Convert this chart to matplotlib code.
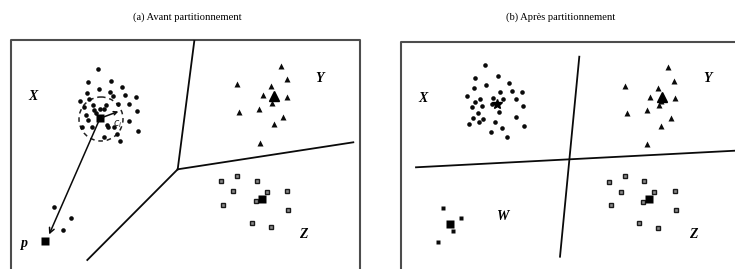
import matplotlib
matplotlib.use("Agg")
import matplotlib.pyplot as plt
from matplotlib.patches import Circle

# ---------------- data (pixel coordinates of the diagram) ----------------
titles = ["(a) Avant partitionnement", "(b) Après partitionnement"]
title_x = [187, 561]

# Panel (a)
a_X_x = [97.7, 88, 111, 122, 86.7, 98.7, 110, 125, 135.7, 80, 88.7, 129.3, 136.7, 129.3,
         137.7, 84.3, 92.7, 100, 106, 113.3, 94.3, 104.3, 86, 92, 108.3, 116.7, 104, 120,
         106.7, 114.3, 88, 96, 82, 118.3]
a_X_y = [69.3, 82.3, 80.7, 87.3, 92.7, 89.3, 92, 95, 96.7, 100.7, 99, 104, 110.7, 121.3,
         130.7, 106.7, 105, 108.7, 105.3, 96, 110, 109.3, 115, 126.7, 126.7, 134, 136.7, 141,
         125, 126.7, 120, 113, 127, 104]
a_near_p_x = [54, 71, 63.3]
a_near_p_y = [206.7, 217.7, 230]
a_Y_x = [280.7, 287.3, 237.3, 270.7, 262.7, 273.7, 275.3, 287.3, 271.7, 239.3, 259, 283.3, 273.7, 260]
a_Y_y = [65.7, 79, 84.3, 85.7, 95, 95, 98.3, 96.7, 103.3, 112.3, 109, 116.7, 124.3, 143.3]
a_Z_x = [221, 237.3, 257.3, 233.3, 266.7, 287.3, 223.3, 256, 288.3, 251.7, 271]
a_Z_y = [181, 175.7, 180.7, 191, 191.7, 190.7, 205, 201.3, 210, 223.3, 227.3]
a_centers_x = [100, 274, 261.7]
a_centers_y = [118.3, 96, 199]
a_p = (45, 241)
a_lines = [[(194.3, 41), (177.7, 169.3)],
           [(177.7, 169.3), (353.3, 142.3)],
           [(177.7, 169.3), (87.3, 260)]]
a_labels = [("X", 33, 97), ("Y", 320, 78), ("Z", 303, 234)]

# Panel (b)
b_X_x = [485, 475.3, 498.3, 509, 474, 485.7, 512, 522.3, 467.3, 500, 492.7, 475, 480.3, 502.7,
         516, 472.3, 481.7, 491.7, 522.7, 477.7, 499.3, 473.3, 483.3, 515.7, 469, 478.7, 495,
         524.3, 491, 501.7, 507]
b_X_y = [65, 77.7, 76, 83.3, 88.3, 85, 90.7, 92.3, 96, 92.3, 98.3, 101.7, 99.3, 99.3,
         99.3, 106.7, 105.7, 104.3, 106, 112.7, 112.3, 117.7, 119.3, 116.7, 124, 122.3, 121.7,
         125.7, 131.7, 128.3, 137]
b_Y_x = [668, 674.3, 625.3, 658.3, 650.3, 661, 675, 659.3, 627, 646.7, 670.7, 661, 647.3]
b_Y_y = [67.3, 81, 85.7, 87.7, 97.3, 100.7, 98.3, 105, 113.3, 110, 117.7, 125.7, 144.3]
b_Z_x = [609.3, 625, 644.3, 621, 654, 675, 611, 643.3, 675.7, 639.3, 658.3]
b_Z_y = [182.3, 176, 181, 191.7, 192.3, 191, 205, 202.3, 210, 222.7, 227.7]
b_W_x = [443.3, 460.7, 452.7, 437.7]
b_W_y = [207.7, 218, 230.7, 241.7]
b_centers_x = [496.7, 661.7, 649.3, 450]
b_centers_y = [104.3, 97.3, 199.3, 224.3]
b_lines = [[(579.3, 56.7), (560, 256.7)],
           [(416, 167.3), (735, 150.7)]]
b_labels = [("X", 423, 98), ("Y", 708, 78), ("W", 502, 217), ("Z", 693, 235)]

# ---------------- drawing ----------------
fig = plt.figure(figsize=(7.35, 2.69), dpi=100)
ax = fig.add_axes([0, 0, 1, 1])
ax.set_xlim(0, 735)
ax.set_ylim(269, 0)
ax.axis("off")

serif = ["Liberation Serif", "DejaVu Serif"]
frame_c = "#4d4d4d"

for t, x in zip(titles, title_x):
    ax.text(x, 17, t, ha="center", va="center", fontsize=7.6, family=serif, color="#000000")

# frames
ax.plot([11, 11, 360, 360], [269, 40, 40, 269], color=frame_c, lw=1.5, solid_capstyle="butt")
ax.plot([401, 401, 735], [269, 42, 42], color=frame_c, lw=1.5, solid_capstyle="butt")

dot_kw = dict(ls="none", marker="o", ms=3.3, color="#0a0a0a", mec="none")
tri_kw = dict(ls="none", marker="^", ms=4.0, color="#0a0a0a", mec="none")
sq_kw = dict(ls="none", marker="s", ms=3.2, mfc="#8a8a8a", mec="#1a1a1a", mew=1.0)
big_kw = dict(ls="none", marker="s", ms=5.5, color="#000000", mec="none")

# panel (a)
ax.plot(a_X_x, a_X_y, **dot_kw)
ax.plot(a_near_p_x, a_near_p_y, **dot_kw)
ax.plot(a_Y_x, a_Y_y, **tri_kw)
ax.plot(a_Z_x, a_Z_y, **sq_kw)
ax.plot(a_centers_x[:1], a_centers_y[:1], **big_kw)
ax.plot(a_centers_x[1:2], a_centers_y[1:2], ls="none", marker="^", ms=6.5, color="#000")
ax.plot(a_centers_x[2:], a_centers_y[2:], **big_kw)
ax.plot([a_p[0]], [a_p[1]], **big_kw)
for seg in a_lines:
    ax.plot([seg[0][0], seg[1][0]], [seg[0][1], seg[1][1]], color="#0a0a0a", lw=1.3)
ax.add_patch(Circle((101, 119), 22, fill=False, ls=(0, (3, 2.5)), lw=1.1, color="#222222"))
ax.annotate("", xy=(48, 237), xytext=(a_centers_x[0], a_centers_y[0]),
            arrowprops=dict(arrowstyle="->", lw=1.1, color="#0a0a0a", mutation_scale=9))
ax.annotate("", xy=(121, 110.5), xytext=(a_centers_x[0], a_centers_y[0]),
            arrowprops=dict(arrowstyle="->", lw=1.1, color="#0a0a0a", mutation_scale=6))
ax.text(118, 124, "$c_i$", fontsize=7, ha="center", va="center", color="#222222")
ax.text(24, 243, "p", fontsize=10, style="italic", weight="bold", family=serif, ha="center", va="center")
for s, x, y in a_labels:
    ax.text(x, y, s, fontsize=10, style="italic", weight="bold", family=serif, ha="center", va="center")

# panel (b)
ax.plot(b_X_x, b_X_y, **dot_kw)
ax.plot(b_Y_x, b_Y_y, **tri_kw)
ax.plot(b_Z_x, b_Z_y, **sq_kw)
ax.plot(b_W_x, b_W_y, ls="none", marker="s", ms=3.3, color="#0a0a0a", mec="none")
ax.plot(b_centers_x[:1], b_centers_y[:1], ls="none", marker="*", ms=7, color="#000")
ax.plot(b_centers_x[1:2], b_centers_y[1:2], ls="none", marker="^", ms=6.5, color="#000")
ax.plot(b_centers_x[2:], b_centers_y[2:], **big_kw)
for seg in b_lines:
    ax.plot([seg[0][0], seg[1][0]], [seg[0][1], seg[1][1]], color="#0a0a0a", lw=1.3)
for s, x, y in b_labels:
    ax.text(x, y, s, fontsize=10, style="italic", weight="bold", family=serif, ha="center", va="center")

fig.savefig("out.png", dpi=100)
